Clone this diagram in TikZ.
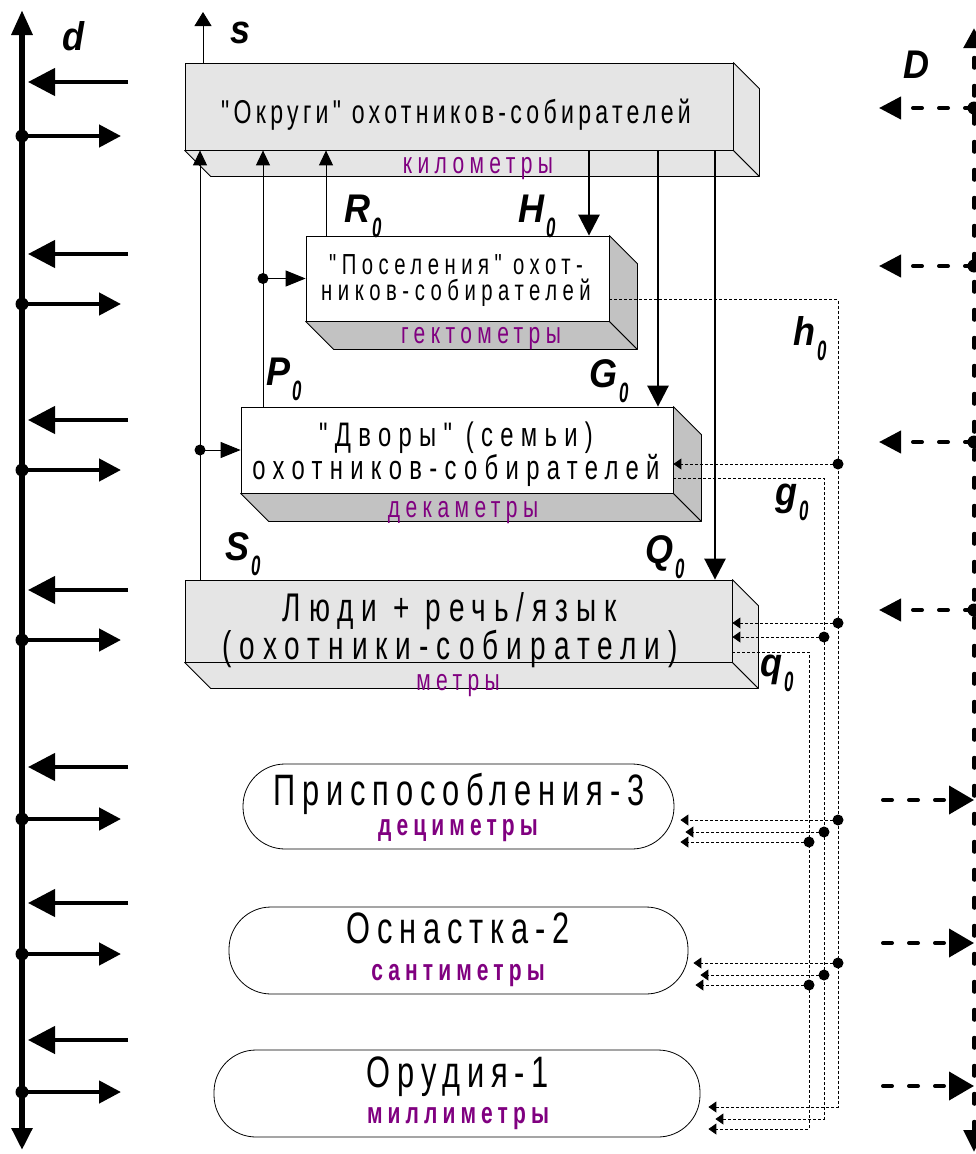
\documentclass[tikz,border=0pt]{standalone}
\usepackage{fontspec}
\setmainfont{Liberation Sans}
\newfontfamily\nf[FakeStretch=0.7]{Liberation Sans}
\newfontfamily\lf[FakeStretch=0.9]{Liberation Sans}
\newfontfamily\zf[FakeStretch=0.6]{Liberation Sans}
\usetikzlibrary{arrows.meta,calc}
\definecolor{unitc}{RGB}{128,0,128}
\definecolor{lightg}{gray}{0.9}
\definecolor{darkg}{gray}{0.76}
\newcommand{\ft}[3]{\nf\addfontfeatures{LetterSpace=#3}\fontsize{#1}{#2}\selectfont}
\newcommand{\sublbl}[2]{#1\hspace{2pt}\raisebox{-15pt}{\zf\fontsize{28}{28}\selectfont\bfseries\itshape #2}}
\newcommand{\extrude}[3]{%
  \filldraw[fill=#3,draw=black,line width=0.8pt,line join=round] (#1.south west) -- (#1.south east) -- ($(#1.south east)+(#2,#2)$) -- ($(#1.south west)+(#2,#2)$) -- cycle;
  \filldraw[fill=#3,draw=black,line width=0.8pt,line join=round] (#1.north east) -- ($(#1.north east)+(#2,#2)$) -- ($(#1.south east)+(#2,#2)$) -- (#1.south east) -- cycle;}
\begin{document}
\begin{tikzpicture}[x=1pt,y=-1pt,
  face/.style={draw=black,line width=0.8pt,inner sep=0pt,rectangle},
  pill/.style={draw=black,line width=0.8pt,rounded corners=42pt,inner sep=0pt,fill=white,rectangle},
  txt/.style={inner sep=0pt,anchor=base},
  mtxt/.style={inner sep=0pt,anchor=center,align=center},
  unit/.style={inner sep=0pt,anchor=base,text=unitc},
  lbl/.style={inner sep=0pt,anchor=base west,font=\lf\fontsize{40}{40}\selectfont\bfseries\itshape},
  thinup/.style={line width=1pt,-{Triangle[length=15pt,width=14pt]}},
  sarrow/.style={line width=1pt,-{Triangle[length=14pt,width=17pt]}},
  inarrow/.style={line width=1pt,-{Triangle[length=20pt,width=16pt]}},
  thickdown/.style={line width=2.7pt,-{Triangle[length=21pt,width=21pt]}},
  dotline/.style={line width=0.9pt,dash pattern=on 3pt off 2pt},
  dotarr/.style={dotline,-{Triangle[length=8pt,width=11pt]}},
  sdot/.style={circle,fill=black,inner sep=0pt,minimum size=11pt},
  bigdot/.style={circle,fill=black,inner sep=0pt,minimum size=13pt},
  laxis/.style={line width=6pt,{Triangle[length=22pt,width=20pt]}-{Triangle[length=25pt,width=20pt]}},
  laxarrow/.style={line width=4.5pt,-{Triangle[length=27pt,width=27pt]}},
  raxarrow/.style={line width=4.5pt,-{Triangle[length=22pt,width=22pt]}},
  raxis/.style={line width=5pt,line cap=round,dash pattern=on 9pt off 19pt,{Triangle[length=22pt,width=20pt]}-{Triangle[length=20pt,width=20pt]}},
  dashl/.style={line width=4pt,line cap=round,dash pattern=on 9pt off 17pt,-{Triangle[length=22pt,width=22pt]}},
  dashr/.style={line width=4pt,line cap=round,dash pattern=on 9pt off 17pt,-{Triangle[length=25pt,width=28pt]}}
]
\fill[white] (0,0) rectangle (975,1154);
\useasboundingbox (0,0) rectangle (975,1154);

% ---------- 3D boxes ----------
\node[face,fill=lightg,minimum width=548pt,minimum height=87pt] (b1) at (459,106.5) {};
\extrude{b1}{26}{lightg}
\node[face,fill=white,minimum width=303pt,minimum height=85pt] (b2) at (457.5,278.5) {};
\extrude{b2}{28}{darkg}
\node[face,fill=white,minimum width=432pt,minimum height=86pt] (b3) at (457,450) {};
\extrude{b3}{28}{darkg}
\node[face,fill=lightg,minimum width=547pt,minimum height=82pt] (b4) at (458.5,621) {};
\extrude{b4}{26}{lightg}

% box texts
\node[txt,font=\ft{33}{33}{13}] (b1t) at (456,123) {"Округи" охотников-собирателей};
\node[unit,font=\ft{30}{30}{18}] (b1u) at (478,173) {километры};
\node[mtxt,font=\ft{29}{26}{19}] (b2t) at (456,281) {"Поселения" охот-\\ников-собирателей};
\node[unit,font=\ft{30}{30}{18}] (b2u) at (481,343) {гектометры};
\node[mtxt,font=\ft{34}{33}{21.5}] (b3t) at (456,454) {"Дворы" (семьи)\\охотников-собирателей};
\node[unit,font=\ft{30}{30}{18}] (b3u) at (463,517) {декаметры};
\node[mtxt,font=\ft{40}{38}{20}] (b4t) at (450,630) {Люди + речь/язык\\(охотники-собиратели)};
\node[unit,font=\ft{30}{30}{18}] (b4u) at (458,690) {метры};

% ---------- pills ----------
\node[pill,minimum width=431pt,minimum height=85pt] (p3) at (458.5,806.5) {};
\node[pill,minimum width=459pt,minimum height=87pt] (p2) at (458.5,950.5) {};
\node[pill,minimum width=486pt,minimum height=87pt] (p1) at (457,1093.5) {};
\node[txt,font=\ft{44}{44}{15.5}] (p3t) at (459,805) {Приспособления-3};
\node[unit,font=\ft{30}{30}{17}\bfseries] (p3u) at (458,835) {дециметры};
\node[txt,font=\ft{44}{44}{15.5}] (p2t) at (458,943) {Оснастка-2};
\node[unit,font=\ft{30}{30}{17}\bfseries] (p2u) at (458,980) {сантиметры};
\node[txt,font=\ft{44}{44}{15.5}] (p1t) at (458,1087) {Орудия-1};
\node[unit,font=\ft{30}{30}{17}\bfseries] (p1u) at (458,1123) {миллиметры};

% ---------- solid connectors ----------
\coordinate (sT) at (203,12);
\coordinate (xS) at (200,0);
\coordinate (xP) at (263,0);
\coordinate (xR) at (326,0);
\coordinate (xH) at (589,0);
\coordinate (xG) at (658,0);
\coordinate (xQ) at (715,0);
\draw[sarrow] (b1.north -| sT) -- (sT);
\draw[thinup] (b4.north -| xS) -- (b1.south -| xS);
\draw[thinup] (b3.north -| xP) -- (b1.south -| xP);
\draw[thinup] (b2.north -| xR) -- (b1.south -| xR);
\draw[thickdown] (b1.south -| xH) -- (b2.north -| xH);
\draw[thickdown] (b1.south -| xG) -- (b3.north -| xG);
\draw[thickdown] (b1.south -| xQ) -- (b4.north -| xQ);
\node[sdot] (dP) at (b2.west -| xP) {};
\draw[inarrow] (dP.center) -- (b2.west);
\node[sdot] (dS) at (b3.west -| xS) {};
\draw[inarrow] (dS.center) -- (b3.west);

% ---------- dotted connectors ----------
\coordinate (xh) at (838,0);
\coordinate (xg) at (824,0);
\coordinate (xq) at (809,0);
\coordinate (h0s) at ($(b2.east)+(0,21)$);
\coordinate (g0s) at ($(b3.east)+(0,28)$);
\coordinate (q0s) at ($(b4.east)+(0,31)$);
\coordinate (eh) at (838,1107);
\coordinate (eg) at (824,1119);
\coordinate (eq) at (809,1129);
\draw[dotarr] (h0s) -- (h0s -| xh) -- (eh) -- ($(p1.east |- eh)+(8,0)$);
\draw[dotarr] (g0s) -- (g0s -| xg) -- (eg) -- ($(p1.east |- eg)+(15,0)$);
\draw[dotarr] (q0s) -- (q0s -| xq) -- (eq) -- ($(p1.east |- eq)+(8,0)$);

\node[sdot] (jh3) at (838,464) {};
\node[sdot] (jh4) at (838,623) {};
\node[sdot] (jh5) at (838,820) {};
\node[sdot] (jh6) at (838,963) {};
\node[sdot] (jg4) at (824,637) {};
\node[sdot] (jg5) at (824,832) {};
\node[sdot] (jg6) at (824,975) {};
\node[sdot] (jq5) at (809,842) {};
\node[sdot] (jq6) at (809,985) {};
\draw[dotarr] (jh3.center) -- (b3.east |- jh3);
\draw[dotarr] (jh4.center) -- (b4.east |- jh4);
\draw[dotarr] (jg4.center) -- (b4.east |- jg4);
\draw[dotarr] (jh5.center) -- ($(p3.east |- jh5)+(6,0)$);
\draw[dotarr] (jg5.center) -- ($(p3.east |- jg5)+(11,0)$);
\draw[dotarr] (jq5.center) -- ($(p3.east |- jq5)+(6,0)$);
\draw[dotarr] (jh6.center) -- ($(p2.east |- jh6)+(5,0)$);
\draw[dotarr] (jg6.center) -- ($(p2.east |- jg6)+(12,0)$);
\draw[dotarr] (jq6.center) -- ($(p2.east |- jq6)+(7,0)$);

% ---------- labels ----------
\node[lbl] (ls) at (230,43) {s};
\node[lbl] (ld) at (62,50) {d};
\node[lbl] (lD) at (903,78) {D};
\node[lbl] (lR) at (344,222) {\sublbl{R}{0}};
\node[lbl] (lH) at (518,222) {\sublbl{H}{0}};
\node[lbl] (lP) at (266,385) {\sublbl{P}{0}};
\node[lbl] (lG) at (589,387) {\sublbl{G}{0}};
\node[lbl] (lS) at (225,560) {\sublbl{S}{0}};
\node[lbl] (lQ) at (645,563) {\sublbl{Q}{0}};
\node[lbl] (lh) at (793,345) {\sublbl{h}{0}};
\node[lbl] (lg) at (775,505) {\sublbl{g}{0}};
\node[lbl] (lq) at (760,676) {\sublbl{q}{0}};

% ---------- left axis d ----------
\coordinate (laT) at (22,10);
\coordinate (laB) at (22,1150);
\draw[laxis] (laB) -- (laT);
\foreach \i/\ya/\yb in {1/82/136,2/254/304,3/420/470,4/590/640,5/767/819,6/903/954,7/1040/1092}{
  \coordinate (la\i) at (128,\ya);
  \draw[laxarrow] (la\i) -- ($(la\i -| laT)+(6,0)$);
  \node[bigdot] (ld\i) at (22,\yb) {};
  \coordinate (lr\i) at (121,\yb);
  \draw[raxarrow] (ld\i.center) -- (lr\i);
}

% ---------- right axis D ----------
\coordinate (raT) at (974,28);
\coordinate (raB) at (974,1152);
\draw[raxis] (raB) -- (raT);
\foreach \i/\y in {1/108,2/266,3/442,4/610}{
  \node[bigdot] (rd\i) at (974,\y) {};
  \coordinate (rt\i) at (879,\y);
  \draw[dashl] (rd\i.center) -- (rt\i);
}
\foreach \i/\y in {5/800,6/943,7/1086}{
  \coordinate (rs\i) at (883,\y);
  \draw[dashr] (rs\i) -- (raT |- rs\i);
}
\end{tikzpicture}
\end{document}
